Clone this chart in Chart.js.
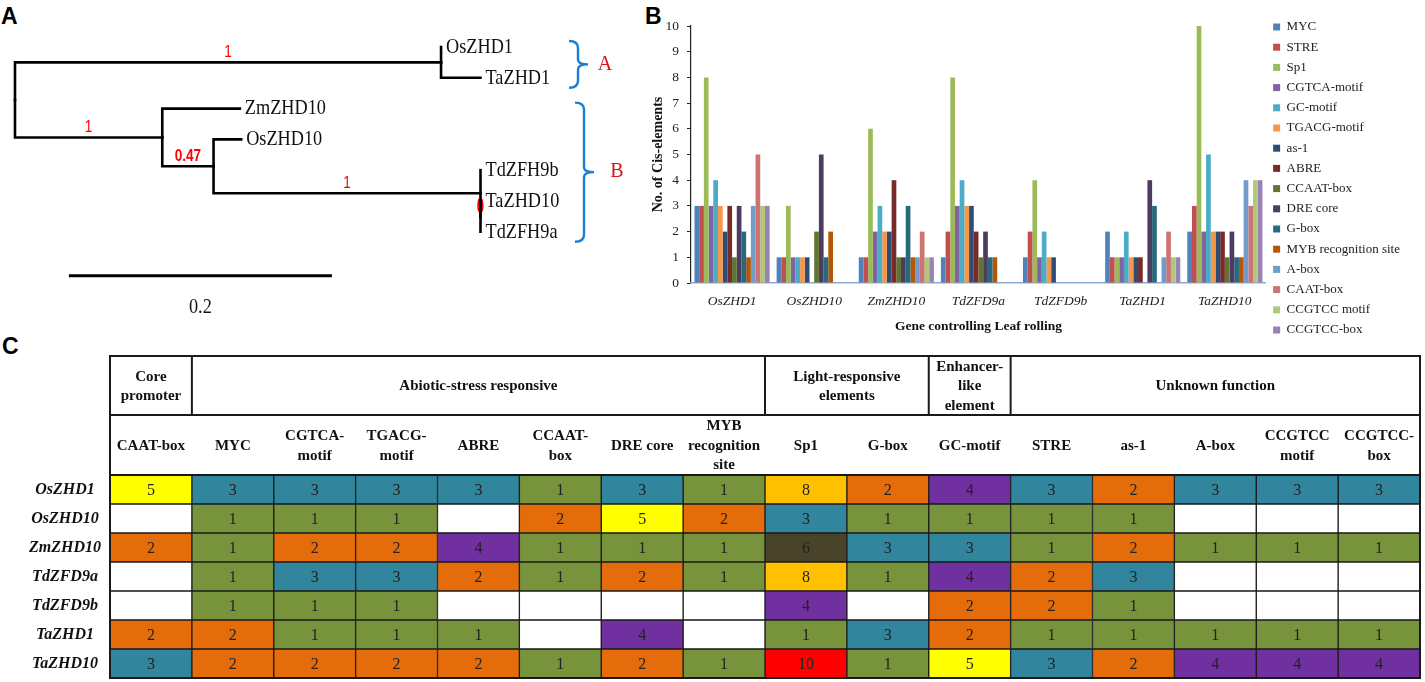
<!DOCTYPE html>
<html>
<head>
<meta charset="utf-8">
<script src="https://cdn.jsdelivr.net/npm/chart.js@4.4.1/dist/chart.umd.min.js"></script>
<style>
html, body { margin: 0; padding: 0; background: #fff; }
body { width: 1425px; height: 682px; position: relative; overflow: hidden; }
.box { position: absolute; }
.tag { position: absolute; font: bold 23px "Liberation Sans", Arial, sans-serif; line-height: 23px; color: #000; }
</style>
</head>
<body>
<div class="tag" style="left:1px;top:5px">A</div>
<div class="tag" style="left:645px;top:5px">B</div>
<div class="tag" style="left:2px;top:335px">C</div>

<div class="box" style="left:0;top:0;width:640px;height:330px"><canvas id="treeChart"></canvas></div>
<div class="box" style="left:640px;top:0;width:770px;height:357px"><canvas id="barChart"></canvas></div>
<div class="box" style="left:0;top:340px;width:1425px;height:342px"><canvas id="tableChart"></canvas></div>

<script>
// ---------- data ----------
const genes = ['OsZHD1', 'OsZHD10', 'ZmZHD10', 'TdZFD9a', 'TdZFD9b', 'TaZHD1', 'TaZHD10'];

// counts per gene (same order as genes)
const myc        = [3, 1, 1, 1, 1, 2, 2];
const stre       = [3, 1, 1, 2, 2, 1, 3];
const sp1        = [8, 3, 6, 8, 4, 1, 10];
const cgtcaMotif = [3, 1, 2, 3, 1, 1, 2];
const gcMotif    = [4, 1, 3, 4, 2, 2, 5];
const tgacgMotif = [3, 1, 2, 3, 1, 1, 2];
const as1        = [2, 1, 2, 3, 1, 1, 2];
const abre       = [3, 0, 4, 2, 0, 1, 2];
const ccaatBox   = [1, 2, 1, 1, 0, 0, 1];
const dreCore    = [3, 5, 1, 2, 0, 4, 2];
const gBox       = [2, 1, 3, 1, 0, 3, 1];
const mybSite    = [1, 2, 1, 1, 0, 0, 1];
const aBox       = [3, 0, 1, 0, 0, 1, 4];
const caatBox    = [5, 0, 2, 0, 0, 2, 3];
const ccgtccMotif = [3, 0, 1, 0, 0, 1, 4];
const ccgtccBox  = [3, 0, 1, 0, 0, 1, 4];

const elementNames = ['MYC', 'STRE', 'Sp1', 'CGTCA-motif', 'GC-motif', 'TGACG-motif', 'as-1', 'ABRE',
  'CCAAT-box', 'DRE core', 'G-box', 'MYB recognition site', 'A-box', 'CAAT-box', 'CCGTCC motif', 'CCGTCC-box'];
const elementCounts = [myc, stre, sp1, cgtcaMotif, gcMotif, tgacgMotif, as1, abre,
  ccaatBox, dreCore, gBox, mybSite, aBox, caatBox, ccgtccMotif, ccgtccBox];
const yTicks = [0, 1, 2, 3, 4, 5, 6, 7, 8, 9, 10];

// table layout (columns in table order)
const tableColumns = ['CAAT-box', 'MYC', 'CGTCA-motif', 'TGACG-motif', 'ABRE', 'CCAAT-box', 'DRE core',
  'MYB recognition site', 'Sp1', 'G-box', 'GC-motif', 'STRE', 'as-1', 'A-box', 'CCGTCC motif', 'CCGTCC-box'];
const tableHeads = [['CAAT-box'], ['MYC'], ['CGTCA-', 'motif'], ['TGACG-', 'motif'], ['ABRE'], ['CCAAT-', 'box'],
  ['DRE core'], ['MYB', 'recognition', 'site'], ['Sp1'], ['G-box'], ['GC-motif'], ['STRE'], ['as-1'], ['A-box'],
  ['CCGTCC', 'motif'], ['CCGTCC-', 'box']];
const tableGroups = [['Core', 'promoter'], ['Abiotic-stress responsive'], ['Light-responsive', 'elements'],
  ['Enhancer-', 'like', 'element'], ['Unknown function']];
const groupSpans = [1, 7, 2, 1, 5];

// tree
const treeNodes   = ['root', 'cladeA', 'OsZHD1', 'TaZHD1', 'cladeB', 'ZmZHD10', 'n047', 'OsZHD10', 'n3', 'TdZFH9b', 'n0', 'TaZHD10', 'TdZFH9a'];
const treeParents = [null, 'root', 'cladeA', 'cladeA', 'root', 'cladeB', 'cladeB', 'n047', 'n047', 'n3', 'n3', 'n0', 'n0'];
const branchLengths = [0, 0.324, 0, 0.030, 0.112, 0.059, 0.039, 0.021, 0.203, 0, 0, 0, 0];
const supportValues = ['', '1', '', '', '1', '', '0.47', '', '1', '', '0', '', ''];
const cladeNames = ['A', 'B'];
const cladeLeaves = [['OsZHD1', 'TaZHD1'], ['ZmZHD10', 'TdZFH9a']];
const scaleBarLength = 0.2;

// ---------- styles ----------
const barColors = ['#4F81BD', '#C0504D', '#9BBB59', '#8064A2', '#4BACC6', '#F79646', '#2C4D75', '#772C2A',
  '#5F7530', '#4D3B62', '#276A7C', '#B65708', '#729ACA', '#CD7371', '#AFC97A', '#9983B5'];
const cellColors = { 1: '#77933C', 2: '#E46C0A', 3: '#31859C', 4: '#7030A0', 5: '#FFFF00', 6: '#494429', 8: '#FFC000', 10: '#FF0000' };
const serif = '"Liberation Serif", "Times New Roman", serif';
const sans = '"Liberation Sans", Arial, sans-serif';

// ==============================
// A: TREE
// ==============================
const nodeX = {}, nodeY = {};
const kids = {};
treeNodes.forEach((n, i) => { const p = treeParents[i]; if (p) (kids[p] = kids[p] || []).push(n); });
let leafIndex = 0;
treeNodes.forEach((n, i) => {
  const p = treeParents[i];
  nodeX[n] = (p ? nodeX[p] : 0) + branchLengths[i];
  if (!kids[n]) nodeY[n] = leafIndex++;
});
function placeY(n) {
  if (nodeY[n] !== undefined) return nodeY[n];
  const ys = kids[n].map(placeY);
  nodeY[n] = ys.reduce((a, b) => a + b, 0) / ys.length;
  return nodeY[n];
}
placeY('root');

const treeSets = [];
treeNodes.forEach((n, i) => {
  const p = treeParents[i];
  if (!p) return;
  treeSets.push({
    data: [{ x: nodeX[p], y: nodeY[p] }, { x: nodeX[p], y: nodeY[n] }, { x: nodeX[n], y: nodeY[n] }],
    showLine: true, borderColor: '#000', borderWidth: 2.6, pointRadius: 0,
    borderCapStyle: 'square', borderJoinStyle: 'miter'
  });
});
const barY = 7.43, barX0 = 0.041;
treeSets.push({
  data: [{ x: barX0, y: barY }, { x: barX0 + scaleBarLength, y: barY }],
  showLine: true, borderColor: '#000', borderWidth: 3, pointRadius: 0
});

function squeezedText(ctx, txt, x, y, sx, align) {
  ctx.save();
  ctx.translate(x, y);
  ctx.scale(sx, 1);
  ctx.textAlign = align;
  ctx.textBaseline = 'middle';
  ctx.fillText(txt, 0, 0);
  ctx.restore();
}

const treeDeco = {
  id: 'treeDeco',
  beforeDatasetsDraw(chart) {
    const { ctx, scales: { x, y } } = chart;
    treeNodes.forEach((n, i) => {
      const s = supportValues[i];
      if (!s) return;
      const p = treeParents[i];
      const mx = (x.getPixelForValue(nodeX[p]) + x.getPixelForValue(nodeX[n])) / 2;
      const my = y.getPixelForValue(nodeY[n]) - 10;
      ctx.fillStyle = '#FF0000';
      if (s === '0') {
        ctx.font = 'bold 22px ' + sans;
        squeezedText(ctx, s, mx, my + 1, 0.6, 'center');
      } else {
        ctx.font = (s === '0.47' ? 'bold ' : '') + '16px ' + sans;
        squeezedText(ctx, s, mx, my, 0.85, 'center');
      }
    });
  },
  afterDatasetsDraw(chart) {
    const { ctx, scales: { x, y } } = chart;
    ctx.fillStyle = '#111';
    ctx.font = '22px ' + serif;
    treeNodes.forEach(n => {
      if (kids[n]) return;
      squeezedText(ctx, n, x.getPixelForValue(nodeX[n]) + 5, y.getPixelForValue(nodeY[n]), 0.83, 'left');
    });
    squeezedText(ctx, String(scaleBarLength), x.getPixelForValue(barX0 + scaleBarLength / 2),
      y.getPixelForValue(barY) + 31, 0.83, 'center');

    // clade brackets
    const bx = [578, 584];
    cladeNames.forEach((c, k) => {
      const top = y.getPixelForValue(nodeY[cladeLeaves[k][0]]) - 6;
      const bot = y.getPixelForValue(nodeY[cladeLeaves[k][1]]) + 10;
      const mid = (top + bot) / 2;
      const vx = bx[k];
      ctx.save();
      ctx.strokeStyle = '#1C7CD5';
      ctx.lineWidth = 2.4;
      ctx.beginPath();
      ctx.moveTo(vx - 9, top);
      ctx.quadraticCurveTo(vx, top, vx, top + 7);
      ctx.lineTo(vx, mid - 5);
      ctx.quadraticCurveTo(vx, mid, vx + 10, mid);
      ctx.quadraticCurveTo(vx, mid, vx, mid + 5);
      ctx.lineTo(vx, bot - 7);
      ctx.quadraticCurveTo(vx, bot, vx - 9, bot);
      ctx.stroke();
      ctx.restore();
      ctx.fillStyle = '#D9141B';
      ctx.font = '20px ' + serif;
      squeezedText(ctx, c, vx + 27 + k * 6, mid, 1, 'center');
    });
  }
};

new Chart(document.getElementById('treeChart'), {
  type: 'scatter',
  data: { datasets: treeSets },
  options: {
    responsive: true,
    maintainAspectRatio: false,
    animation: false,
    layout: { padding: 0 },
    plugins: { legend: { display: false }, tooltip: { enabled: false } },
    scales: {
      x: { type: 'linear', display: false, min: -0.0114, max: 0.4753 },
      y: { type: 'linear', display: false, reverse: true, min: -1.526, max: 9.19 }
    }
  },
  plugins: [treeDeco]
});

// ==============================
// B: BAR CHART
// ==============================
new Chart(document.getElementById('barChart'), {
  type: 'bar',
  data: {
    labels: genes,
    datasets: elementNames.map((name, k) => ({
      label: name,
      data: elementCounts[k],
      backgroundColor: barColors[k],
      borderWidth: 0,
      barPercentage: 1,
      categoryPercentage: 0.915
    }))
  },
  options: {
    responsive: true,
    maintainAspectRatio: false,
    animation: false,
    layout: { padding: { left: 0, right: 0, top: 0, bottom: 0 } },
    plugins: {
      title: { display: true, text: '', fullSize: false, font: { size: 10 }, padding: { top: 7, bottom: 7 } },
      tooltip: { enabled: false },
      legend: {
        position: 'right',
        align: 'center',
        labels: {
          boxWidth: 7, boxHeight: 7, padding: 7.2, color: '#222',
          font: { family: serif, size: 13 }
        }
      }
    },
    scales: {
      y: {
        min: 0, max: 10,
        afterBuildTicks: s => { s.ticks = yTicks.map(v => ({ value: v })); },
        afterFit: s => { s.width = 51; },
        ticks: { color: '#222', padding: 8, font: { family: serif, size: 13.5 } },
        grid: { display: true, drawOnChartArea: false, drawTicks: true, tickLength: 4, color: '#222' },
        border: { display: true, color: '#222', width: 1.2 },
        title: {
          display: true, text: 'No. of Cis-elements', color: '#111',
          font: { family: serif, size: 14, weight: 'bold' }, padding: { top: 10, bottom: 0 }
        }
      },
      x: {
        afterFit: s => { s.height = 74; },
        grid: { display: false, drawTicks: false },
        border: { display: true, color: '#8EA9D0', width: 1.6 },
        ticks: { color: '#222', padding: 10, font: { family: serif, size: 13.5, style: 'italic' } },
        title: {
          display: true, text: 'Gene controlling Leaf rolling', color: '#111',
          font: { family: serif, size: 13.5, weight: 'bold' }, padding: { top: 12, bottom: 22 }
        }
      }
    }
  }
});

// ==============================
// C: TABLE (floating bars on a 16-column grid)
// ==============================
function countFor(name, i) {
  return elementCounts[elementNames.indexOf(name)][i];
}

const tableDeco = {
  id: 'tableDeco',
  afterDatasetsDraw(chart) {
    const { ctx, chartArea, scales: { x } } = chart;
    // numbers
    ctx.fillStyle = '#222';
    ctx.font = '16px ' + serif;
    ctx.textAlign = 'center';
    ctx.textBaseline = 'middle';
    chart.data.datasets.forEach((ds, j) => {
      chart.getDatasetMeta(j).data.forEach((el, i) => {
        const v = countFor(tableColumns[j], i);
        if (!v) return;
        ctx.fillText(String(v), (el.x + el.base) / 2, el.y + 1);
      });
    });
    // header
    const r2b = chartArea.top, r2t = r2b - 60, r1t = r2t - 59;
    const L = x.getPixelForValue(0), R = x.getPixelForValue(16);
    ctx.strokeStyle = '#1a1a1a';
    ctx.lineWidth = 2;
    ctx.strokeRect(L, r1t, R - L, chartArea.bottom - r1t);
    ctx.beginPath();
    ctx.moveTo(L, r2t); ctx.lineTo(R, r2t);
    ctx.moveTo(L, r2b); ctx.lineTo(R, r2b);
    let c = 0;
    groupSpans.forEach(span => {
      c += span;
      if (c < 16) { const px = x.getPixelForValue(c); ctx.moveTo(px, r1t); ctx.lineTo(px, r2t); }
    });
    ctx.stroke();
    ctx.font = 'bold 15px ' + serif;
    ctx.fillStyle = '#111';
    const lh = 19.5;
    c = 0;
    tableGroups.forEach((lines, g) => {
      const cx = (x.getPixelForValue(c) + x.getPixelForValue(c + groupSpans[g])) / 2;
      const cy = (r1t + r2t) / 2 - (lines.length - 1) * lh / 2;
      lines.forEach((t, k) => ctx.fillText(t, cx, cy + k * lh + 1));
      c += groupSpans[g];
    });
    tableHeads.forEach((lines, j) => {
      const cx = (x.getPixelForValue(j) + x.getPixelForValue(j + 1)) / 2;
      const cy = (r2t + r2b) / 2 - (lines.length - 1) * lh / 2;
      lines.forEach((t, k) => ctx.fillText(t, cx, cy + k * lh + 1));
    });
  }
};

new Chart(document.getElementById('tableChart'), {
  type: 'bar',
  data: {
    labels: genes,
    datasets: tableColumns.map((name, j) => ({
      label: name,
      data: genes.map(() => [j, j + 1]),
      backgroundColor: genes.map((g, i) => cellColors[countFor(name, i)] || '#FFFFFF'),
      borderColor: '#1a1a1a',
      borderWidth: 1,
      borderSkipped: false,
      barPercentage: 1,
      categoryPercentage: 1,
      grouped: false
    }))
  },
  options: {
    indexAxis: 'y',
    responsive: true,
    maintainAspectRatio: false,
    animation: false,
    layout: { padding: { top: 135, right: 5, bottom: 4, left: 0 } },
    plugins: { legend: { display: false }, tooltip: { enabled: false } },
    scales: {
      x: { type: 'linear', min: 0, max: 16, display: false },
      y: {
        grid: { display: false },
        border: { display: false },
        ticks: {
          color: '#111', crossAlign: 'center', padding: 1,
          font: { family: serif, size: 16, style: 'italic', weight: 'bold', lineHeight: 0.3 }
        },
        afterFit: s => { s.width = 110; }
      }
    }
  },
  plugins: [tableDeco]
});
</script>
</body>
</html>
